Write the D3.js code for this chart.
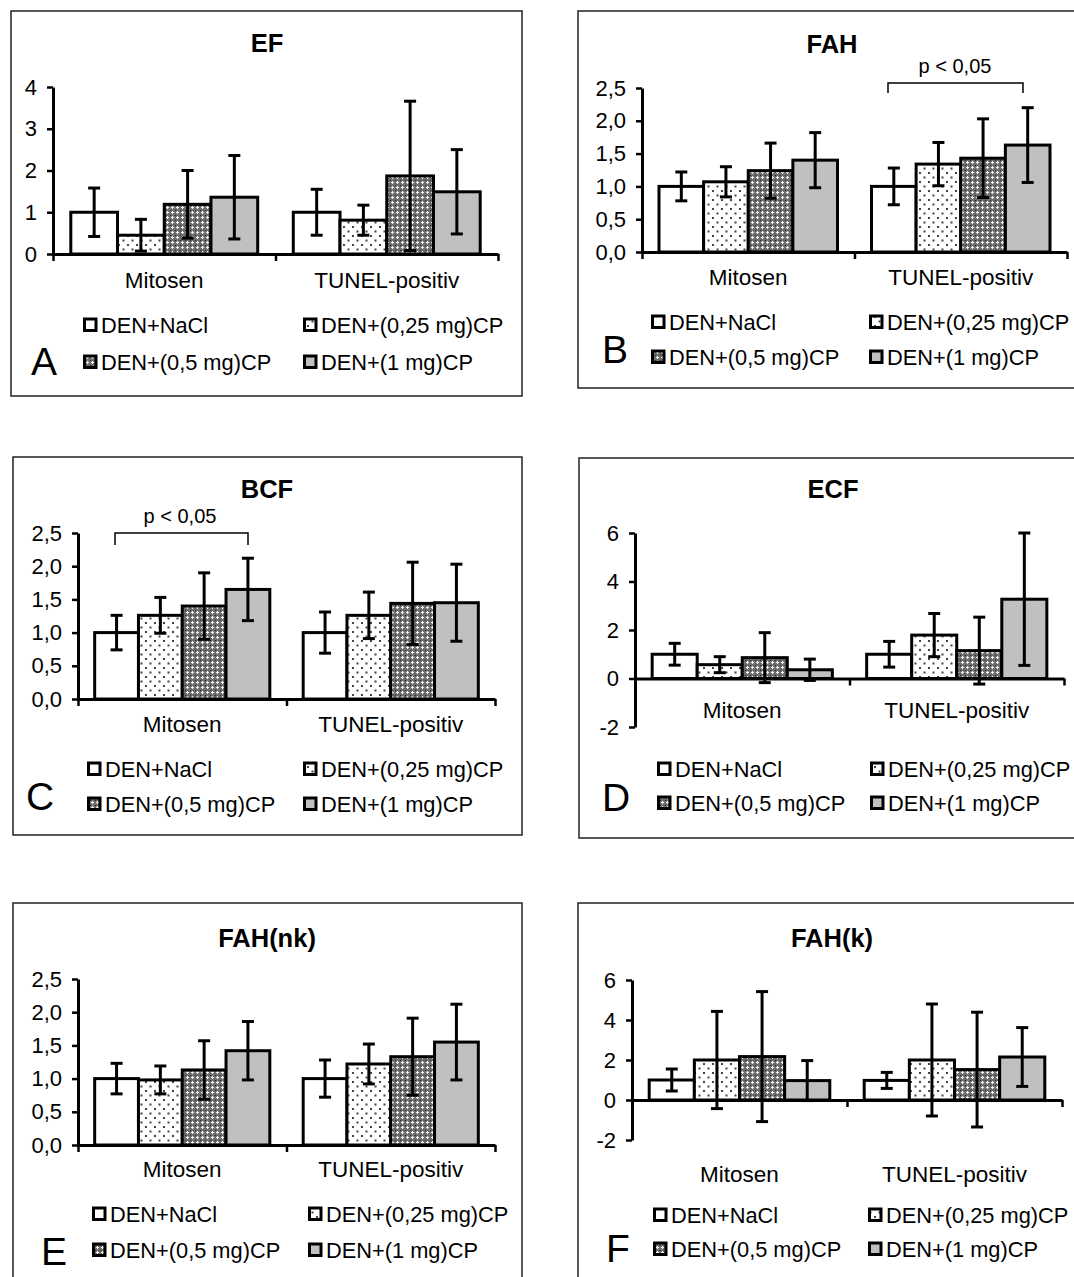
<!DOCTYPE html>
<html><head><meta charset="utf-8">
<script src="https://cdn.jsdelivr.net/npm/d3@7"></script>
<style>body{margin:0;background:#fff}svg{display:block}text{font-family:"Liberation Sans",Arial,sans-serif;fill:#000}</style>
</head><body>
<svg id="c" width="1074" height="1277"></svg>
<script>
const categories = ["Mitosen", "TUNEL-positiv"];
const seriesNames = ["DEN+NaCl", "DEN+(0,25 mg)CP", "DEN+(0,5 mg)CP", "DEN+(1 mg)CP"];

// values [category][series], errors [category][series]
const EF_values = [[1.00, 0.45, 1.19, 1.36], [1.00, 0.81, 1.87, 1.49]];
const EF_errors = [[0.58, 0.38, 0.81, 1.00], [0.55, 0.36, 1.79, 1.01]];
const FAH_values = [[1.00, 1.07, 1.24, 1.40], [1.00, 1.34, 1.43, 1.63]];
const FAH_errors = [[0.22, 0.23, 0.42, 0.42], [0.28, 0.33, 0.60, 0.57]];
const BCF_values = [[1.00, 1.26, 1.40, 1.65], [1.00, 1.26, 1.44, 1.45]];
const BCF_errors = [[0.26, 0.27, 0.50, 0.47], [0.31, 0.35, 0.62, 0.58]];
const ECF_values = [[1.00, 0.57, 0.86, 0.36], [1.00, 1.79, 1.15, 3.27]];
const ECF_errors = [[0.45, 0.33, 1.03, 0.44], [0.53, 0.89, 1.38, 2.73]];
const FAHnk_values = [[1.00, 0.98, 1.13, 1.42], [1.00, 1.22, 1.33, 1.55]];
const FAHnk_errors = [[0.23, 0.21, 0.44, 0.44], [0.28, 0.30, 0.58, 0.57]];
const FAHk_values = [[1.00, 2.00, 2.17, 0.97], [0.98, 2.00, 1.52, 2.15]];
const FAHk_errors = [[0.55, 2.43, 3.25, 1.00], [0.40, 2.80, 2.87, 1.47]];

const ticks04 = [0, 1, 2, 3, 4];
const ticks025 = [0, 0.5, 1.0, 1.5, 2.0, 2.5];
const ticksM26 = [-2, 0, 2, 4, 6];

const titles = ["EF", "FAH", "BCF", "ECF", "FAH(nk)", "FAH(k)"];
const letters = ["A", "B", "C", "D", "E", "F"];
const pText = "p < 0,05";

const loc = d3.formatLocale({decimal: ",", thousands: ".", grouping: [3], currency: ["", ""], minus: "-"});
const f1 = loc.format(".1f"), f0 = loc.format("d");

const svg = d3.select("#c");
const defs = svg.append("defs");
// dotted pattern
const pd = defs.append("pattern").attr("id", "dots").attr("patternUnits", "userSpaceOnUse").attr("width", 9).attr("height", 9);
pd.append("rect").attr("width", 9).attr("height", 9).attr("fill", "#fff");
pd.append("rect").attr("x", 1).attr("y", 1).attr("width", 2).attr("height", 2).attr("fill", "#444");
pd.append("rect").attr("x", 5.5).attr("y", 5.5).attr("width", 2).attr("height", 2).attr("fill", "#444");
// cross pattern
const pc = defs.append("pattern").attr("id", "cross").attr("patternUnits", "userSpaceOnUse").attr("width", 5).attr("height", 5);
pc.append("rect").attr("width", 5).attr("height", 5).attr("fill", "#6e6e6e");
pc.append("rect").attr("x", 2).attr("y", 1).attr("width", 1).attr("height", 3).attr("fill", "#f2f2f2");
pc.append("rect").attr("x", 1).attr("y", 2).attr("width", 3).attr("height", 1).attr("fill", "#f2f2f2");
pc.append("rect").attr("x", 0).attr("y", 0).attr("width", 1).attr("height", 1).attr("fill", "#222");

const fills = ["#ffffff", "url(#dots)", "url(#cross)", "#c0c0c0"];

const panels = [
  {vals: EF_values, errs: EF_errors, ticks: ticks04, fmt: f0, box: [11, 11, 511, 385],
   x0: 53, x1: 498, yMinPx: 254, yMaxPx: 87, title: [267, 52], catY: 288,
   leg: [333, 370, 83, 303], letter: [31, 375]},
  {vals: FAH_values, errs: FAH_errors, ticks: ticks025, fmt: f1, box: [578, 11, 520, 377],
   x0: 642, x1: 1067, yMinPx: 252, yMaxPx: 88, title: [832, 53], catY: 285,
   leg: [330, 365, 651, 869], letter: [602, 363], bracket: [888, 1023, 83, 93, 955, 73]},
  {vals: BCF_values, errs: BCF_errors, ticks: ticks025, fmt: f1, box: [13, 457, 509, 378],
   x0: 78, x1: 495, yMinPx: 699, yMaxPx: 533, title: [267, 498], catY: 732,
   leg: [777, 812, 87, 303], letter: [26, 810]},
  {vals: ECF_values, errs: ECF_errors, ticks: ticksM26, fmt: f0, box: [579, 458, 520, 380],
   x0: 635, x1: 1064, yMinPx: 727, yMaxPx: 533, title: [833, 498], catY: 718,
   leg: [777, 811, 657, 870], letter: [602, 811]},
  {vals: FAHnk_values, errs: FAHnk_errors, ticks: ticks025, fmt: f1, box: [13, 903, 509, 400],
   x0: 78, x1: 495, yMinPx: 1145, yMaxPx: 979, title: [267, 947], catY: 1177,
   leg: [1222, 1258, 92, 308], letter: [41, 1265]},
  {vals: FAHk_values, errs: FAHk_errors, ticks: ticksM26, fmt: f0, box: [578, 903, 520, 400],
   x0: 632, x1: 1062, yMinPx: 1140, yMaxPx: 980, title: [832, 947], catY: 1182,
   leg: [1223, 1257, 653, 868], letter: [606, 1262]}
];
panels[2].bracket = [115, 248, 533, 545, 180, 523];

panels.forEach((p, pi) => {
  const g = svg.append("g");
  g.append("rect").attr("x", p.box[0]).attr("y", p.box[1]).attr("width", p.box[2]).attr("height", p.box[3])
    .attr("fill", "none").attr("stroke", "#222").attr("stroke-width", 1.5);

  const dom = d3.extent(p.ticks);
  const y = d3.scaleLinear().domain(dom).range([p.yMinPx, p.yMaxPx]);
  const x = d3.scaleBand().domain(categories).range([p.x0, p.x1]).paddingInner(0.16).paddingOuter(0.08);
  const xs = d3.scaleBand().domain(seriesNames).range([0, x.bandwidth()]).padding(0);
  const y0 = y(Math.max(0, dom[0]));

  // bars
  categories.forEach((c, ci) => {
    seriesNames.forEach((s, si) => {
      const v = p.vals[ci][si];
      g.append("rect").attr("x", x(c) + xs(s)).attr("width", xs.bandwidth())
        .attr("y", Math.min(y(v), y0)).attr("height", Math.abs(y0 - y(v)))
        .attr("fill", fills[si]).attr("stroke", "#000").attr("stroke-width", 3);
    });
  });
  // error bars
  categories.forEach((c, ci) => {
    seriesNames.forEach((s, si) => {
      const v = p.vals[ci][si], e = p.errs[ci][si];
      const cx = x(c) + xs(s) + xs.bandwidth() / 2;
      const eg = g.append("g").attr("stroke", "#000").attr("stroke-width", 3);
      eg.append("line").attr("x1", cx).attr("x2", cx).attr("y1", y(v + e)).attr("y2", y(v - e));
      eg.append("line").attr("x1", cx - 6).attr("x2", cx + 6).attr("y1", y(v + e)).attr("y2", y(v + e));
      eg.append("line").attr("x1", cx - 6).attr("x2", cx + 6).attr("y1", y(v - e)).attr("y2", y(v - e));
    });
  });

  // y axis
  const ya = g.append("g").attr("transform", `translate(${p.x0},0)`)
    .call(d3.axisLeft(y).tickValues(p.ticks).tickFormat(p.fmt).tickSize(6).tickSizeOuter(0).tickPadding(10));
  ya.select(".domain").attr("stroke-width", 3);
  ya.selectAll(".tick line").attr("stroke-width", 2.5);
  ya.selectAll(".tick text").attr("font-size", 22).attr("font-family", '"Liberation Sans",Arial,sans-serif');

  // x axis at zero with boundary ticks
  const xb = d3.scaleLinear().domain([0, categories.length]).range([p.x0, p.x1]);
  const xa = g.append("g").attr("transform", `translate(0,${y0})`)
    .call(d3.axisBottom(xb).tickValues(d3.range(categories.length + 1)).tickFormat("").tickSize(7).tickSizeOuter(0));
  xa.select(".domain").attr("stroke-width", 3);
  xa.selectAll(".tick line").attr("stroke-width", 2.5);

  // category labels
  categories.forEach(c => {
    g.append("text").attr("x", x(c) + x.bandwidth() / 2).attr("y", p.catY).attr("text-anchor", "middle")
      .attr("font-size", 22.5).text(c);
  });

  // title
  g.append("text").attr("x", p.title[0]).attr("y", p.title[1]).attr("text-anchor", "middle")
    .attr("font-size", 25.5).attr("font-weight", "bold").text(titles[pi]);

  // legend
  seriesNames.forEach((s, si) => {
    const row = Math.floor(si / 2), col = si % 2;
    const by = p.leg[row], sx = p.leg[2 + col];
    g.append("rect").attr("x", sx + 1.5).attr("y", by - 14).attr("width", 11.5).attr("height", 11.5)
      .attr("fill", fills[si]).attr("stroke", "#000").attr("stroke-width", 3);
    g.append("text").attr("x", sx + 18).attr("y", by).attr("font-size", 21.8).text(s);
  });

  // panel letter
  g.append("text").attr("x", p.letter[0]).attr("y", p.letter[1]).attr("font-size", 39).text(letters[pi]);

  // significance bracket
  if (p.bracket) {
    const b = p.bracket;
    g.append("path").attr("d", `M${b[0]},${b[3]}V${b[2]}H${b[1]}V${b[3]}`)
      .attr("fill", "none").attr("stroke", "#000").attr("stroke-width", 1.5);
    g.append("text").attr("x", b[4]).attr("y", b[5]).attr("text-anchor", "middle").attr("font-size", 20).text(pText);
  }
});
</script>
</body></html>
